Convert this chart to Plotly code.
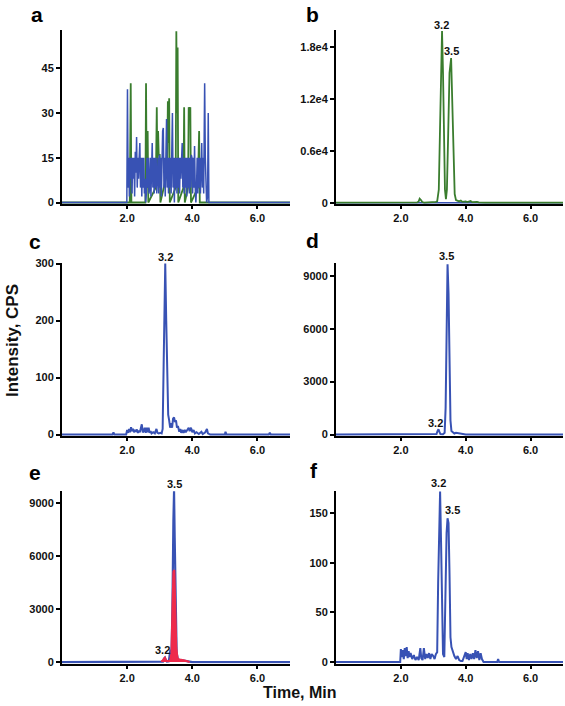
import plotly.graph_objects as go

# ---------------- data (time in min, intensity in CPS) ----------------
# panel a : blue and green noise traces
a_blue_t = [0, 1.99, 2.01, 2.03, 2.05, 2.07, 2.09, 2.11, 2.13, 2.15, 2.17, 2.19, 2.21, 2.23, 2.25, 2.27, 2.29,
            2.31, 2.33, 2.35, 2.37, 2.39, 2.41, 2.43, 2.45, 2.47, 2.49, 2.51, 2.53, 2.55, 2.57, 2.59, 2.61,
            2.63, 2.65, 2.67, 2.69, 2.71, 2.73, 2.75, 2.77, 2.79, 2.81, 2.83, 2.85, 2.87, 2.89, 2.91, 2.93,
            2.95, 2.97, 2.99, 3.01, 3.03, 3.05, 3.07, 3.09, 3.11, 3.13, 3.15, 3.17, 3.19, 3.21, 3.23, 3.25,
            3.27, 3.29, 3.31, 3.33, 3.35, 3.37, 3.39, 3.41, 3.43, 3.45, 3.47, 3.49, 3.51, 3.53, 3.55, 3.57,
            3.59, 3.61, 3.63, 3.65, 3.67, 3.69, 3.71, 3.73, 3.75, 3.77, 3.79, 3.81, 3.83, 3.85, 3.87, 3.89,
            3.91, 3.93, 3.95, 3.97, 3.99, 4.01, 4.03, 4.05, 4.07, 4.09, 4.11, 4.13, 4.15, 4.17, 4.19, 4.21,
            4.23, 4.25, 4.27, 4.29, 4.31, 4.33, 4.35, 4.38, 4.40, 4.42, 4.44, 4.47, 4.49, 4.51, 7.0]
a_blue_v = [0, 0, 38, 5, 15, 2, 15, 8, 15, 3, 15, 8, 15, 2, 17, 10, 22,
            5, 15, 8, 15, 20, 5, 15, 2, 15, 5, 15, 3, 8, 0, 3, 15,
            5, 15, 3, 5, 15, 2, 15, 20, 5, 15, 3, 15, 5, 15, 3, 10,
            15, 3, 16, 5, 15, 2, 15, 24, 25, 5, 15, 2, 15, 28, 5, 15,
            3, 15, 5, 15, 3, 30, 30, 5, 15, 0, 15, 5, 15, 3, 15, 5,
            15, 3, 15, 8, 20, 20, 5, 15, 3, 15, 5, 15, 2, 15, 5, 15,
            3, 15, 5, 16, 15, 3, 15, 5, 19, 5, 0, 5, 15, 3, 15, 5,
            15, 3, 20, 20, 5, 15, 3, 40, 15, 5, 0, 2, 30, 0, 0]
a_green_t = [0, 2.08, 2.11, 2.13, 2.56, 2.58, 2.60, 2.63, 2.65, 2.88, 2.91, 2.93, 2.95, 2.97, 3.00, 3.02,
             3.23, 3.25, 3.27, 3.29, 3.31, 3.49, 3.51, 3.53, 3.55, 3.57, 3.73, 3.75, 3.77, 3.87, 3.89,
             3.92, 3.94, 3.96, 4.17, 4.19, 4.21, 4.23, 7.0]
a_green_v = [0, 0, 40, 0, 0, 40, 5, 24, 0, 5, 32, 8, 24, 16, 16, 0,
             10, 34, 20, 35, 0, 5, 57.5, 30, 52, 0, 5, 32, 0, 5, 32,
             30, 32, 0, 5, 24, 24, 0, 0]

# panel b : green trace
b_green_t = [0, 2.0, 2.1, 2.2, 2.5, 2.55, 2.58, 2.62, 2.66, 2.72, 2.9, 3.0, 3.08, 3.12, 3.17, 3.21, 3.25,
             3.27, 3.30, 3.33, 3.36, 3.39, 3.42, 3.46, 3.50, 3.55, 3.58, 3.62, 3.66, 3.70, 3.75, 3.80,
             3.85, 3.90, 4.00, 4.05, 4.15, 4.20, 4.35, 4.40, 4.60, 7.0]
b_green_v = [0, 0, 20, 0, 30, 150, 470, 300, 80, 20, 30, 60, 100, 150, 1500, 9000, 18500,
             19800, 15000, 6000, 1500, 400, 1500, 8000, 15000, 16700, 12000, 4000, 1000, 300, 200, 150,
             250, 100, 150, 80, 200, 60, 100, 30, 0, 0]
b_blue_t = [0, 7.0]
b_blue_v = [0, 0]

# panel c : blue trace
c_blue_t = [0, 1.55, 1.58, 1.61, 1.97, 2.00, 2.03, 2.06, 2.09, 2.12, 2.15, 2.18, 2.21, 2.24, 2.27, 2.30,
            2.33, 2.36, 2.39, 2.42, 2.45, 2.48, 2.51, 2.54, 2.57, 2.60, 2.63, 2.66, 2.69, 2.72, 2.75,
            2.80, 2.85, 2.90, 2.93, 2.97, 3.02, 3.06, 3.09, 3.12, 3.15, 3.17, 3.20, 3.23, 3.26, 3.29,
            3.32, 3.35, 3.38, 3.41, 3.44, 3.47, 3.50, 3.53, 3.56, 3.60, 3.63, 3.66, 3.70, 3.73, 3.77,
            3.80, 3.85, 3.89, 3.92, 3.96, 4.00, 4.04, 4.08, 4.13, 4.20, 4.28, 4.32, 4.40, 4.45, 4.48,
            4.55, 5.00, 5.02, 5.05, 6.35, 6.38, 6.41, 7.0]
c_blue_v = [0, 0, 4, 0, 0, 8, 3, 10, 4, 13, 6, 10, 4, 8, 5, 9,
            3, 7, 4, 9, 18, 4, 6, 12, 3, 12, 4, 12, 3, 6, 2,
            4, 2, 10, 3, 2, 3, 2, 10, 120, 280, 300, 200, 70, 35, 25,
            12, 20, 12, 28, 30, 22, 25, 12, 15, 5, 10, 3, 8, 3, 8,
            4, 8, 12, 6, 12, 4, 8, 2, 4, 1, 5, 1, 4, 10, 2,
            0, 0, 5, 0, 0, 3, 0, 0]

# panel d : blue trace
d_blue_t = [0, 3.00, 3.10, 3.13, 3.16, 3.19, 3.22, 3.30, 3.35, 3.38, 3.41, 3.44, 3.47, 3.50, 3.53, 3.56,
            3.60, 3.65, 3.70, 3.75, 3.80, 3.85, 3.90, 4.00, 7.0]
d_blue_v = [0, 0, 30, 200, 300, 150, 30, 20, 100, 1500, 6000, 9650, 8000, 3500, 800, 200,
            120, 60, 100, 80, 100, 60, 20, 0, 0]

# panel e : blue and red traces
e_blue_t = [0, 3.00, 3.10, 3.13, 3.16, 3.19, 3.22, 3.28, 3.33, 3.36, 3.39, 3.42, 3.44, 3.46, 3.49, 3.52,
            3.56, 3.60, 3.70, 3.80, 3.90, 4.00, 7.0]
e_blue_v = [0, 0, 30, 180, 250, 120, 30, 50, 700, 300, 3000, 8000, 9650, 7000, 2000, 500,
            150, 120, 100, 80, 30, 0, 0]
e_red_t = [3.05, 3.10, 3.13, 3.16, 3.19, 3.25, 3.32, 3.36, 3.39, 3.42, 3.45, 3.48, 3.51, 3.55, 3.60,
           3.70, 3.80, 3.85, 3.92]
e_red_v = [40, 100, 200, 250, 100, 50, 80, 500, 3000, 5100, 5200, 3000, 800, 200, 150,
           120, 100, 50, 0]

# panel f : blue trace
f_blue_t = [0, 1.98, 2.00, 2.03, 2.06, 2.09, 2.12, 2.15, 2.18, 2.21, 2.24, 2.27, 2.30, 2.35, 2.40, 2.45,
            2.50, 2.55, 2.60, 2.63, 2.67, 2.71, 2.75, 2.79, 2.83, 2.87, 2.91, 2.95, 3.00, 3.04, 3.08,
            3.12, 3.15, 3.18, 3.21, 3.24, 3.27, 3.30, 3.34, 3.37, 3.41, 3.44, 3.47, 3.50, 3.53, 3.56,
            3.60, 3.65, 3.70, 3.75, 3.80, 3.85, 3.90, 4.00, 4.03, 4.06, 4.10, 4.14, 4.18, 4.22, 4.26,
            4.30, 4.34, 4.38, 4.42, 4.46, 4.50, 4.55, 4.97, 5.00, 5.03, 7.0]
f_blue_v = [0, 0, 13, 5, 12, 3, 14, 6, 15, 4, 11, 5, 9, 3, 7, 2,
            5, 2, 14, 4, 2, 14, 3, 8, 4, 9, 3, 8, 6, 3, 8,
            10, 80, 150, 172, 120, 40, 8, 5, 60, 130, 145, 140, 90, 25, 15,
            10, 6, 3, 6, 2, 1, 1, 10, 3, 9, 2, 8, 3, 9, 3,
            12, 4, 11, 2, 9, 3, 0, 0, 3, 0, 0]

# peak labels: (panel, text, time, intensity)
peak_labels = [
    ("b", "3.2", 3.24, 20500), ("b", "3.5", 3.57, 17550),
    ("c", "3.2", 3.17, 311),
    ("d", "3.5", 3.42, 10100), ("d", "3.2", 3.06, 660),
    ("e", "3.5", 3.45, 10080), ("e", "3.2", 3.09, 680),
    ("f", "3.2", 3.16, 181), ("f", "3.5", 3.60, 153),
]

x_tickvals = [2, 4, 6]
x_ticktext = ["2.0", "4.0", "6.0"]
y_ticks = {
    "a": ([0, 15, 30, 45], ["0", "15", "30", "45"]),
    "b": ([0, 6000, 12000, 18000], ["0", "0.6e4", "1.2e4", "1.8e4"]),
    "c": ([0, 100, 200, 300], ["0", "100", "200", "300"]),
    "d": ([0, 3000, 6000, 9000], ["0", "3000", "6000", "9000"]),
    "e": ([0, 3000, 6000, 9000], ["0", "3000", "6000", "9000"]),
    "f": ([0, 50, 100, 150], ["0", "50", "100", "150"]),
}
y_ranges = {"a": [-0.5, 57.9], "b": [-150, 19930], "c": [-2.5, 301],
            "d": [-80, 9720], "e": [-80, 9700], "f": [-1.5, 173]}

# ---------------- styling / layout ----------------
W, H = 565, 706
BLUE = "#3852b4"
GREEN = "#3a7d2e"
RED = "#ee2b4c"
FONT = "Liberation Sans, Arial, sans-serif"

left_x = [62 / W, 290 / W]
right_x = [336 / W, 563 / W]
rows_y = [[1 - 204 / H, 1 - 30 / H], [1 - 436 / H, 1 - 263 / H], [1 - 663.5 / H, 1 - 490.5 / H]]

panels = ["a", "b", "c", "d", "e", "f"]
domains = {
    "a": (left_x, rows_y[0]), "b": (right_x, rows_y[0]),
    "c": (left_x, rows_y[1]), "d": (right_x, rows_y[1]),
    "e": (left_x, rows_y[2]), "f": (right_x, rows_y[2]),
}

fig = go.Figure()


def axref(p):
    i = panels.index(p) + 1
    return ("x" if i == 1 else f"x{i}"), ("y" if i == 1 else f"y{i}")


def add_line(p, t, v, color, width=2, fill=None):
    xr, yr = axref(p)
    fig.add_trace(go.Scatter(x=t, y=v, mode="lines", xaxis=xr, yaxis=yr,
                             line=dict(color=color, width=width, shape="linear"),
                             fill=fill, fillcolor=color if fill else None,
                             hoverinfo="skip", showlegend=False))


add_line("a", a_green_t, a_green_v, GREEN, 1.8)
add_line("a", a_blue_t, a_blue_v, BLUE, 1.5)
add_line("b", b_blue_t, b_blue_v, BLUE, 1.5)
add_line("b", b_green_t, b_green_v, GREEN, 1.8)
add_line("c", c_blue_t, c_blue_v, BLUE, 2)
add_line("d", d_blue_t, d_blue_v, BLUE, 2)
add_line("e", e_blue_t, e_blue_v, BLUE, 2.2)
add_line("e", e_red_t, e_red_v, RED, 2, fill="tozeroy")
add_line("f", f_blue_t, f_blue_v, BLUE, 2)

tickfont = dict(family=FONT, size=11, color="#111111", weight="bold")
layout = {}
for i, p in enumerate(panels, start=1):
    xd, yd = domains[p]
    sx = "" if i == 1 else str(i)
    layout[f"xaxis{sx}"] = dict(
        domain=xd, range=[0, 7], anchor=f"y{sx}", tickvals=x_tickvals, ticktext=x_ticktext,
        showline=True, linecolor="black", linewidth=2, ticks="outside", ticklen=3,
        tickwidth=1.5, tickcolor="black", showgrid=False, zeroline=False,
        tickfont=tickfont, layer="below traces", fixedrange=True)
    tv, tt = y_ticks[p]
    layout[f"yaxis{sx}"] = dict(
        domain=yd, range=y_ranges[p], anchor=f"x{sx}", tickvals=tv, ticktext=tt,
        showline=True, linecolor="black", linewidth=2, ticks="outside", ticklen=4,
        tickwidth=1.5, tickcolor="black", showgrid=False, zeroline=False,
        tickfont=tickfont, layer="below traces", fixedrange=True)

annotations = []
# peak labels: x in data units, y as a fraction of the subplot's y range (so labels above the range still show)
for p, txt, t, v in peak_labels:
    xr, yr = axref(p)
    lo, hi = y_ranges[p]
    annotations.append(dict(x=t, y=(v - lo) / (hi - lo), xref=xr, yref=f"{yr} domain",
                            text=f"<b>{txt}</b>", showarrow=False,
                            xanchor="center", yanchor="middle",
                            font=dict(family=FONT, size=11, color="#111111")))

letters = {"a": (37, 14), "b": (312, 14), "c": (35, 242), "d": (312, 241),
           "e": (35, 472), "f": (314, 471)}
for p, (px, py) in letters.items():
    annotations.append(dict(x=px / W, y=1 - py / H, xref="paper", yref="paper", text=f"<b>{p}</b>",
                            showarrow=False, xanchor="center", yanchor="middle",
                            font=dict(family=FONT, size=21, color="black")))

annotations.append(dict(x=13 / W, y=1 - 341 / H, xref="paper", yref="paper",
                        text="<b>Intensity, CPS</b>", textangle=-90, showarrow=False,
                        xanchor="center", yanchor="middle",
                        font=dict(family=FONT, size=17, color="#111111")))
annotations.append(dict(x=300 / W, y=1 - 692 / H, xref="paper", yref="paper",
                        text="<b>Time, Min</b>", showarrow=False,
                        xanchor="center", yanchor="middle",
                        font=dict(family=FONT, size=16, color="#111111")))

fig.update_layout(
    width=W, height=H,
    margin=dict(l=0, r=0, t=0, b=0, autoexpand=False),
    paper_bgcolor="white", plot_bgcolor="white",
    showlegend=False, annotations=annotations, **layout)

fig.write_html("out.html", config={"displayModeBar": False},
               post_script="document.body.style.margin='0';document.body.style.padding='0';")
